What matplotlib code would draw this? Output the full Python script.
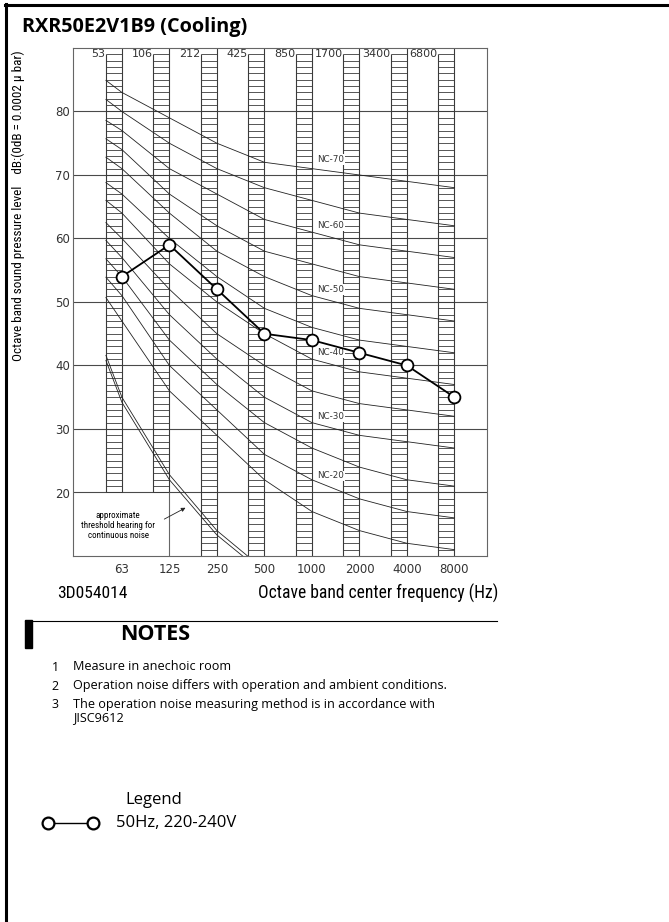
import numpy as np
import matplotlib.pyplot as plt
import matplotlib.patches as patches
from matplotlib.lines import Line2D

plt.rcParams['font.family'] = ['Open Sans', 'DejaVu Sans']

# octave band centre frequencies and lower band edges (Hz)
bands = ['63', '125', '250', '500', '1000', '2000', '4000', '8000']
band_edges = ['53', '106', '212', '425', '850', '1700', '3400', '6800']

# measured octave band levels (dB), 50Hz 220-240V
measured_db = [54, 59, 52, 45, 44, 42, 40, 35]

# NC curves: level at the 53 Hz edge, then one value per octave band
nc_ratings = [15, 20, 25, 30, 35, 40, 45, 50, 55, 60, 65, 70]
nc_edge_db = [50.7, 53.9, 56.8, 59.7, 62.5, 66.0, 68.8, 72.8, 75.7, 78.6, 81.9, 84.9]
nc_db = [
    [47, 36, 29, 22, 17, 14, 12, 11],
    [51, 40, 33, 26, 22, 19, 17, 16],
    [54, 44, 37, 31, 27, 24, 22, 21],
    [57, 48, 41, 35, 31, 29, 28, 27],
    [60, 52, 45, 40, 36, 34, 33, 32],
    [64, 56, 50, 45, 41, 39, 38, 37],
    [67, 60, 54, 49, 46, 44, 43, 42],
    [71, 64, 58, 54, 51, 49, 48, 47],
    [74, 67, 62, 58, 56, 54, 53, 52],
    [77, 71, 67, 63, 61, 59, 58, 57],
    [80, 75, 71, 68, 66, 64, 63, 62],
    [83, 79, 75, 72, 71, 70, 69, 68],
]
nc_labelled = [20, 30, 40, 50, 60, 70]

# threshold of hearing (double line): 53 Hz edge, then 63..500 Hz
threshold_upper = [41.6, 35.0, 22.8, 14.0, 7.8]
threshold_lower = [40.8, 34.2, 22.0, 13.3, 7.2]

notes = [
    'Measure in anechoic room',
    'Operation noise differs with operation and ambient conditions.',
    'The operation noise measuring method is in accordance with\nJISC9612',
]

W, H = 669, 922


def fx(px):
    return px / W


def fy(py):
    return 1 - py / H


colors = {
    'curve': '#222222',
    'ladder': '#3a3a3a',
    'grid': '#4a4a4a',
    'frame': '#666666',
    'tick': '#333333',
}
narrow = ['Roboto Condensed', 'DejaVu Sans Condensed', 'Liberation Sans Narrow',
          'Roboto', 'DejaVu Sans']
cad = ['DejaVu Sans']

fig = plt.figure(figsize=(W / 100, H / 100), dpi=100)
renderer = fig.canvas.get_renderer()


def fit_width(t, target_px, vertical=False):
    # scale the font so the drawn text spans target_px
    bb = t.get_window_extent(renderer)
    span = bb.height if vertical else bb.width
    t.set_fontsize(t.get_fontsize() * target_px / span)


ax = fig.add_axes([fx(73), fy(556), fx(487) - fx(73), fy(48) - fy(556)])

xpos = np.arange(len(bands))
ladder_w = 0.337

# band ladders (1 dB rungs), cut off at 20 dB for the two lowest bands
for i, x in enumerate(xpos):
    y_lo = 20 if i < 2 else 10
    rungs = np.arange(y_lo, 90)
    ax.hlines(rungs, x - ladder_w, x, colors=colors['ladder'], lw=0.6)
    ax.vlines(x - ladder_w, y_lo, 89, colors=colors['ladder'], lw=0.8)
    ax.vlines(x, y_lo, 90, colors=colors['ladder'], lw=0.8)
    ax.text(x - ladder_w - 0.02, 89, band_edges[i], ha='right', va='center',
            fontsize=8, color=colors['tick'], family=cad)
ax.vlines(1, 10, 20, colors=colors['frame'], lw=0.8)

# NC curves
curve_x = np.concatenate([[-ladder_w], xpos])
for rating, edge, vals in zip(nc_ratings, nc_edge_db, nc_db):
    ax.plot(curve_x, [edge] + vals, color=colors['curve'], lw=0.6)
    if rating in nc_labelled:
        ly = np.interp(4.4, xpos, vals) + 1.8
        ax.text(4.4, ly, f'NC-{rating}', ha='center', va='center', fontsize=6.3,
                color=colors['tick'], family=cad, zorder=4,
                bbox=dict(fc='white', ec='none', pad=0.6))

# threshold of hearing
thr_x = curve_x[:len(threshold_upper)]
ax.plot(thr_x, threshold_upper, color=colors['curve'], lw=0.6)
ax.plot(thr_x, threshold_lower, color=colors['curve'], lw=0.6)
thr_note = ax.text(-0.08, 14.8, 'approximate\nthreshold hearing for\ncontinuous noise',
                   ha='center', va='center', fontsize=6.2, family=narrow, linespacing=1.15)
ax.annotate('', xy=(1.39, 17.8), xytext=(0.84, 15.6),
            arrowprops=dict(arrowstyle='-|>', color=colors['curve'], lw=0.6,
                            mutation_scale=6))

# measured levels
ax.plot(xpos, measured_db, color='black', lw=1.3, marker='o', ms=8.5,
        mfc='white', mec='black', mew=1.3, zorder=5)

ax.set_xlim(-1.03, 7.685)
ax.set_ylim(10, 90)
ax.set_xticks(xpos, bands)
ax.set_yticks(range(20, 81, 10))
ax.yaxis.grid(True, color=colors['grid'], lw=0.8)
ax.set_axisbelow(True)
ax.tick_params(axis='x', length=0, pad=5, labelsize=8.5, labelcolor=colors['tick'])
ax.tick_params(axis='y', length=0, pad=2, labelsize=8.5, labelcolor=colors['tick'])
for lbl in ax.get_xticklabels() + ax.get_yticklabels():
    lbl.set_family(cad)
for sp in ax.spines.values():
    sp.set_color(colors['frame'])
    sp.set_linewidth(0.8)

# page frame
fig.add_artist(Line2D([fx(6.5), fx(6.5)], [fy(4), 0], color='black', lw=2.2))
fig.add_artist(Line2D([fx(5), 1], [fy(5.5), fy(5.5)], color='black', lw=2.2))

fig.text(fx(22), fy(27), 'RXR50E2V1B9 (Cooling)', fontsize=14.3, fontweight='bold',
         ha='left', va='center')
ylab = fig.text(fx(18), fy(206),
                'Octave band sound pressure level    dB:(0dB = 0.0002 \u03bc bar)',
                rotation=90, ha='center', va='center', fontsize=9, family=narrow)
code = fig.text(fx(57), fy(593), '3D054014', fontsize=12, ha='left', va='center',
                family=narrow)
xlab = fig.text(fx(258), fy(593), 'Octave band center frequency (Hz)', fontsize=12,
                ha='left', va='center', family=narrow)
fit_width(ylab, 313, vertical=True)
fit_width(code, 70)
fit_width(xlab, 239)
fit_width(thr_note, 73)

# notes block
fig.add_artist(Line2D([fx(25), fx(497)], [fy(621), fy(621)], color='black', lw=0.8))
fig.add_artist(patches.Rectangle((fx(25), fy(648)), fx(32) - fx(25), fy(620) - fy(648),
                                 color='black'))
fig.text(fx(120), fy(634), 'NOTES', fontsize=15.5, fontweight='bold', ha='left', va='center')
note_y = [667, 686, 705]
for n, (text, y) in enumerate(zip(notes, note_y), start=1):
    fig.text(fx(55), fy(y), str(n), fontsize=9, ha='center', va='center')
    fig.text(fx(73), fy(y - 7), text, fontsize=9.1, ha='left', va='top', linespacing=1.05)

# legend
fig.text(fx(125), fy(800), 'Legend', fontsize=12, ha='left', va='center')
fig.add_artist(Line2D([fx(48), fx(93)], [fy(823), fy(823)], color='black', lw=1,
                      marker='o', ms=8.5, mfc='white', mec='black', mew=1.6))
fig.text(fx(116), fy(823), '50Hz, 220-240V', fontsize=12, ha='left', va='center')

fig.savefig('out.png', dpi=100)
